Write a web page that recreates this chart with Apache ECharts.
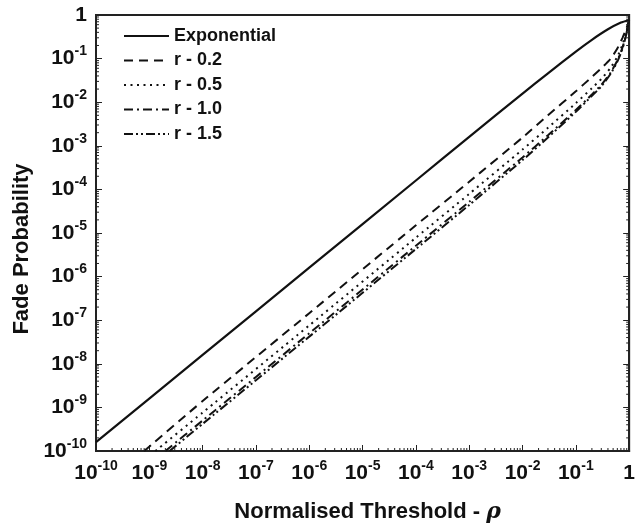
<!DOCTYPE html>
<html>
<head>
<meta charset="utf-8">
<script src="https://cdn.jsdelivr.net/npm/echarts@6/dist/echarts.min.js"></script>
<style>
  html, body { margin: 0; padding: 0; background: #fff; }
  #chart { width: 638px; height: 529px; }
</style>
</head>
<body>
<div id="chart"></div>
<script>
// values (rho, fade probability)
const rhoExp   = [1e-10, 1e-8, 1e-6, 1e-4, 1e-3, 1e-2, 3e-2, 0.1, 0.2, 0.4, 0.7, 1];
const fadeExp  = [1.6e-10, 1.6e-8, 1.6e-6, 1.6e-4, 1.6e-3, 1.58e-2, 4.6e-2, 0.145, 0.27, 0.47, 0.67, 0.77];

const rhoR02   = [8e-10, 1e-8, 1e-6, 1e-4, 1e-3, 1e-2, 3e-2, 0.1, 0.2, 0.3, 0.45, 0.6, 0.75, 0.88, 1];
const fadeR02  = [1e-10, 1.4e-9, 1.45e-7, 1.5e-5, 1.5e-4, 1.55e-3, 5e-3, 1.78e-2, 0.038, 0.06, 0.1, 0.17, 0.3, 0.48, 0.77];

const rhoR05   = [1.3e-9, 1e-8, 1e-6, 1e-4, 1e-3, 1e-2, 3e-2, 0.1, 0.2, 0.3, 0.45, 0.6, 0.75, 0.88, 1];
const fadeR05  = [1e-10, 7.6e-10, 7.6e-8, 7.8e-6, 7.9e-5, 8.2e-4, 2.6e-3, 9.5e-3, 0.021, 0.034, 0.062, 0.11, 0.21, 0.40, 0.77];

const rhoR10   = [2e-9, 1e-8, 1e-6, 1e-4, 1e-3, 1e-2, 3e-2, 0.1, 0.2, 0.3, 0.45, 0.6, 0.75, 0.88, 1];
const fadeR10  = [1e-10, 5e-10, 5e-8, 5.1e-6, 5.2e-5, 5.4e-4, 1.75e-3, 6.6e-3, 0.015, 0.025, 0.048, 0.09, 0.18, 0.36, 0.77];

const rhoR15   = [2.4e-9, 1e-8, 1e-6, 1e-4, 1e-3, 1e-2, 3e-2, 0.1, 0.2, 0.3, 0.45, 0.6, 0.75, 0.88, 1];
const fadeR15  = [1e-10, 4.2e-10, 4.2e-8, 4.3e-6, 4.4e-5, 4.7e-4, 1.55e-3, 6e-3, 0.014, 0.023, 0.045, 0.085, 0.17, 0.35, 0.77];

const seriesNames = ['Exponential', 'r - 0.2', 'r - 0.5', 'r - 1.0', 'r - 1.5'];
const decades = [-10, -9, -8, -7, -6, -5, -4, -3, -2, -1];
const minorSteps = [2, 3, 4, 5, 6, 7, 8, 9];

const FONT = "'Liberation Sans', Arial, sans-serif";
const INK = '#111';

function zip(xs, ys) {
  return xs.map((x, i) => [x, ys[i]]);
}

function powLabel(value) {
  const e = Math.round(Math.log10(value));
  if (e === 0) return '{b|1}';
  return '{b|10}{s|' + e + '}';
}

const labelRich = {
  b: { fontSize: 21, fontWeight: 'bold', fontFamily: FONT, color: INK, lineHeight: 28 },
  s: { fontSize: 14, fontWeight: 'bold', fontFamily: FONT, color: INK, lineHeight: 13, verticalAlign: 'top' }
};

// minor tick positions: 0 = bottom, 1 = left, 2 = right
const minorData = [];
decades.forEach(function (d) {
  minorSteps.forEach(function (m) {
    const v = m * Math.pow(10, d);
    minorData.push([v, 1e-10, 0]);
    minorData.push([1e-10, v, 1]);
    minorData.push([1, v, 2]);
  });
});

function lineSeries(name, data, dash, width) {
  return {
    name: name,
    type: 'line',
    data: data,
    symbol: 'none',
    smooth: 0.2,
    color: INK,
    itemStyle: { color: INK },
    lineStyle: { color: INK, width: width || 2, type: dash }
  };
}

const chart = echarts.init(document.getElementById('chart'));
const option = {
  animation: false,
  backgroundColor: '#fff',
  grid: {
    left: 96, right: 6, top: 15, bottom: 78,
    show: true, borderColor: '#222', borderWidth: 2
  },
  legend: {
    data: seriesNames,
    orient: 'vertical',
    left: 118,
    top: 22,
    itemWidth: 45,
    itemHeight: 14,
    itemGap: 6.5,
    itemStyle: { opacity: 0 },
    textStyle: { fontSize: 18, fontWeight: 'bold', fontFamily: FONT, color: INK }
  },
  xAxis: {
    type: 'log',
    logBase: 10,
    min: 1e-10,
    max: 1,
    interval: 1,
    name: 'Normalised Threshold - {i|ρ}',
    nameLocation: 'middle',
    nameGap: 50,
    nameTextStyle: {
      fontSize: 22, fontWeight: 'bold', fontFamily: FONT, color: INK,
      padding: [0, 0, 0, 10],
      rich: {
        i: { fontSize: 22, fontStyle: 'italic', fontFamily: "'DejaVu Serif', serif", color: INK }
      }
    },
    axisLine: { show: true, lineStyle: { color: '#222', width: 2 } },
    axisTick: { show: true, inside: true, length: 6, lineStyle: { color: '#222', width: 1 } },
    axisLabel: { formatter: powLabel, rich: labelRich, margin: 8, showMinLabel: true, showMaxLabel: true },
    splitLine: { show: false }
  },
  yAxis: [{
    type: 'log',
    logBase: 10,
    min: 1e-10,
    max: 1,
    interval: 1,
    name: 'Fade Probability',
    nameLocation: 'middle',
    nameGap: 62,
    nameTextStyle: {
      fontSize: 22, fontWeight: 'bold', fontFamily: FONT, color: INK,
      padding: [0, 32, 0, 0]
    },
    axisLine: { show: true, lineStyle: { color: '#222', width: 2 } },
    axisTick: { show: true, inside: true, length: 6, lineStyle: { color: '#222', width: 1 } },
    axisLabel: { formatter: powLabel, rich: labelRich, margin: 9, showMinLabel: true, showMaxLabel: true },
    splitLine: { show: false }
  }, {
    type: 'log',
    logBase: 10,
    min: 1e-10,
    max: 1,
    interval: 1,
    position: 'right',
    axisLine: { show: true, lineStyle: { color: '#222', width: 2 } },
    axisTick: { show: true, inside: true, length: 6, lineStyle: { color: '#222', width: 1 } },
    axisLabel: { show: false },
    splitLine: { show: false }
  }],
  series: [
    lineSeries('Exponential', zip(rhoExp, fadeExp), 'solid', 2.2),
    lineSeries('r - 0.2', zip(rhoR02, fadeR02), [9, 6]),
    lineSeries('r - 0.5', zip(rhoR05, fadeR05), [2, 4.5]),
    lineSeries('r - 1.0', zip(rhoR10, fadeR10), [9, 4, 2, 4]),
    lineSeries('r - 1.5', zip(rhoR15, fadeR15), [9, 3, 2, 3, 2, 3]),
    {
      type: 'custom',
      silent: true,
      z: 5,
      data: minorData,
      renderItem: function (params, api) {
        const p = api.coord([api.value(0), api.value(1)]);
        const side = api.value(2);
        let shape;
        if (side === 0) shape = { x1: p[0], y1: p[1], x2: p[0], y2: p[1] - 3 };
        else if (side === 1) shape = { x1: p[0], y1: p[1], x2: p[0] + 3, y2: p[1] };
        else shape = { x1: p[0], y1: p[1], x2: p[0] - 3, y2: p[1] };
        return { type: 'line', shape: shape, style: { stroke: '#222', lineWidth: 1 } };
      }
    }
  ]
};
chart.setOption(option);
</script>
</body>
</html>
